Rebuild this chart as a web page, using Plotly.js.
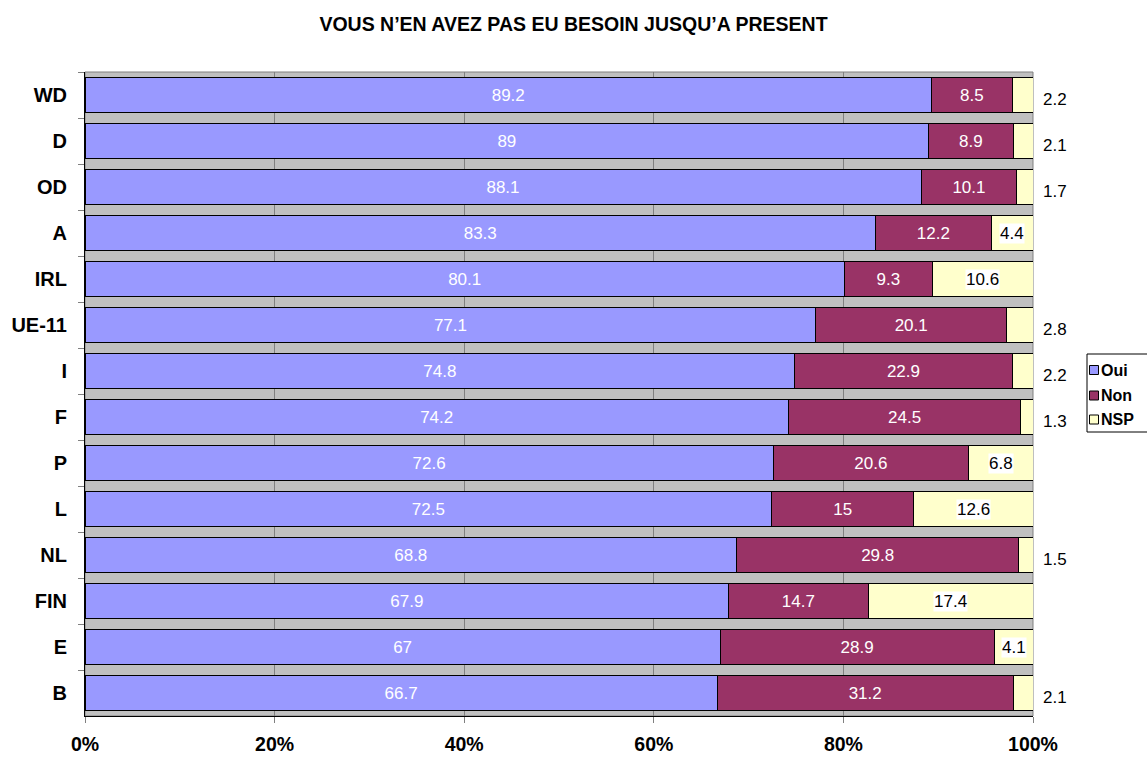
<!DOCTYPE html>
<html>
<head>
<meta charset="utf-8">
<script src="https://cdn.plot.ly/plotly-3.0.1.min.js"></script>
<style>html,body{margin:0;padding:0;background:#fff;}#chart{width:1147px;height:758px;}</style>
</head>
<body>
<div id="chart"></div>
<script>
var categories = ["WD","D","OD","A","IRL","UE-11","I","F","P","L","NL","FIN","E","B"];
var oui = [89.2, 89, 88.1, 83.3, 80.1, 77.1, 74.8, 74.2, 72.6, 72.5, 68.8, 67.9, 67, 66.7];
var non = [8.5, 8.9, 10.1, 12.2, 9.3, 20.1, 22.9, 24.5, 20.6, 15, 29.8, 14.7, 28.9, 31.2];
var nsp = [2.2, 2.1, 1.7, 4.4, 10.6, 2.8, 2.2, 1.3, 6.8, 12.6, 1.5, 17.4, 4.1, 2.1];
var seriesNames = ["Oui", "Non", "NSP"];
var seriesColors = ["#9999FF", "#993366", "#FFFFCC"];
var xTickVals = [0, 20, 40, 60, 80, 100];
var xTickText = ["0%", "20%", "40%", "60%", "80%", "100%"];

var font = "Arial, 'Liberation Sans', sans-serif";
var W = 1147, H = 758, ML = 85, MR = 114, MT = 72, MB = 42;
var PW = W - ML - MR, PH = H - MT - MB;
function pxX(px) { return (px - ML) / PW; }
function pxY(py) { return (H - MB - py) / PH; }

function pct(i) {
  var s = oui[i] + non[i] + nsp[i];
  return [oui[i] / s * 100, non[i] / s * 100, nsp[i] / s * 100];
}
function mkTrace(idx, vals, textcolor, showText) {
  return {
    type: "bar", orientation: "h", name: seriesNames[idx],
    y: categories, x: vals,
    marker: {color: seriesColors[idx], line: {color: "#000", width: 1}},
    text: showText ? vals.map(String) : null,
    textposition: showText ? "inside" : "none",
    insidetextanchor: "middle",
    textangle: 0,
    constraintext: "none",
    textfont: {family: font, size: 17, color: textcolor},
    hoverinfo: "skip"
  };
}
var traces = [
  mkTrace(0, oui, "#fff", true),
  mkTrace(1, non, "#fff", true),
  mkTrace(2, nsp, "#000", false)
];

var annotations = [];
for (var i = 0; i < categories.length; i++) {
  var p = pct(i);
  if (nsp[i] >= 4) {
    annotations.push({
      x: p[0] + p[1] + p[2] / 2, y: categories[i], xref: "x", yref: "y",
      text: String(nsp[i]), showarrow: false, bgcolor: "#fff", borderpad: 0,
      font: {family: font, size: 17, color: "#000"}
    });
  } else {
    annotations.push({
      x: 100, y: categories[i], xref: "x", yref: "y", xanchor: "left",
      xshift: 8, yshift: -4,
      text: String(nsp[i]), showarrow: false,
      font: {family: font, size: 17, color: "#000"}
    });
  }
}

// Legend drawn manually (box, swatches, labels)
var shapes = [
  {type: "rect", xref: "paper", yref: "paper", x0: 0, x1: 1, y0: 0, y1: 1,
   line: {color: "#808080", width: 1}, fillcolor: "rgba(0,0,0,0)", layer: "below"},
  {type: "rect", xref: "paper", yref: "paper", x0: pxX(1087), x1: pxX(1152), y0: pxY(354), y1: pxY(432),
   line: {color: "#000", width: 1}, fillcolor: "#fff", layer: "above"}
];
var legendCenters = [370, 395.5, 419.5];
for (var k = 0; k < seriesNames.length; k++) {
  var cy = legendCenters[k];
  shapes.push({type: "rect", xref: "paper", yref: "paper",
    x0: pxX(1089.5), x1: pxX(1098.5), y0: pxY(cy - 4.5), y1: pxY(cy + 4.5),
    line: {color: "#000", width: 1}, fillcolor: seriesColors[k], layer: "above"});
  annotations.push({xref: "paper", yref: "paper", x: pxX(1099), y: pxY(cy), xanchor: "left", yanchor: "middle",
    text: seriesNames[k], showarrow: false,
    font: {family: font, size: 16, color: "#000", weight: "bold"}});
}

var layout = {
  width: W, height: H,
  margin: {l: ML, r: MR, t: MT, b: MB},
  paper_bgcolor: "#fff", plot_bgcolor: "#C0C0C0",
  barmode: "stack", barnorm: "percent", bargap: 0.24,
  showlegend: false,
  title: {text: "VOUS N\u2019EN AVEZ PAS EU BESOIN JUSQU\u2019A PRESENT", x: 0.5, xref: "container", xanchor: "center",
          yref: "container", y: 0.968, yanchor: "middle",
          font: {family: font, size: 19.5, color: "#000", weight: "bold"}},
  xaxis: {range: [0, 100], tickvals: xTickVals, ticktext: xTickText,
          showgrid: true, gridcolor: "#808080", gridwidth: 1, zeroline: false,
          showline: true, linecolor: "#000", linewidth: 1,
          ticks: "outside", ticklen: 6, tickcolor: "#808080", ticklabelstandoff: 5,
          tickfont: {family: font, size: 19.5, color: "#000", weight: "bold"}, fixedrange: true},
  yaxis: {autorange: "reversed", type: "category", tickson: "boundaries",
          showline: true, linecolor: "#000", linewidth: 1, showgrid: false,
          ticks: "outside", ticklen: 6, tickcolor: "#808080", ticklabelstandoff: 13,
          tickfont: {family: font, size: 20, color: "#000", weight: "bold"}, fixedrange: true},
  annotations: annotations,
  shapes: shapes
};
Plotly.newPlot("chart", traces, layout, {displayModeBar: false, staticPlot: true});
</script>
</body>
</html>
